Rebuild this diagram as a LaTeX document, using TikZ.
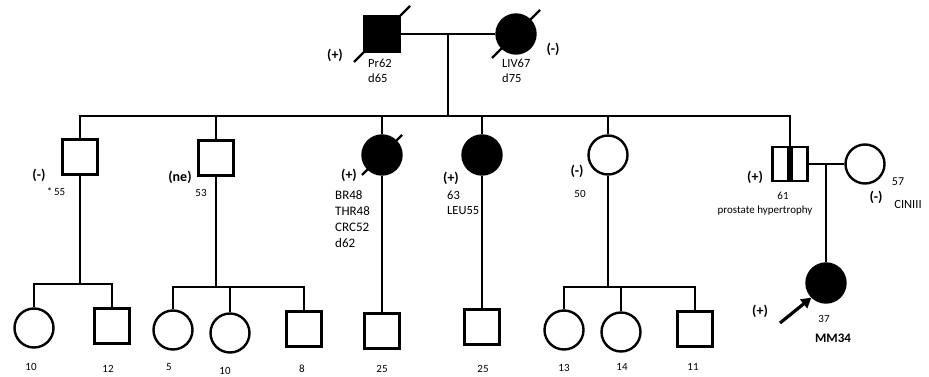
\documentclass[tikz,border=0pt]{standalone}
\usepackage{fontspec}
\setmainfont{Carlito}
\usetikzlibrary{arrows.meta,calc}
\tikzset{
  link/.style={line width=2.4pt},
  male/.style={draw, line width=2.4pt, minimum size=35pt, inner sep=0pt},
  female/.style={draw, circle, line width=2.4pt, minimum size=39pt, inner sep=0pt},
  affected/.style={fill=black},
  carrier/.style={path picture={\fill ([xshift=-3pt]path picture bounding box.north) rectangle ([xshift=3pt]path picture bounding box.south);}},
  status/.style={font=\bfseries\fontsize{14}{16}\selectfont, inner sep=0pt},
  info/.style={font=\fontsize{12.5}{15}\selectfont, inner sep=0pt, align=left, anchor=north west},
  age/.style={font=\fontsize{11}{13}\selectfont, inner sep=0pt},
  probandarrow/.style={-{Triangle[length=10pt,width=11pt]}, line width=3.2pt}
}
% slash through a deceased individual
\newcommand{\deceased}[2]{\draw[link] ($(#1.center)+(-#2,#2)$) -- ($(#1.center)+(#2,-#2)$);}

\begin{document}
\begin{tikzpicture}[x=1pt,y=-1pt]
  \useasboundingbox (0,0) rectangle (929,377);

  % generation I
  \node[male, affected] (gf) at (382,34) {};
  \node[female, affected] (gm) at (516,34) {};
  \deceased{gf}{28}
  \deceased{gm}{24}
  \node[status] (gfs) at (335,55) {(+)};
  \node[info] (gfi) at (368,59) {Pr62\\d65};
  \node[status] (gms) at (553,49) {(-)};
  \node[info] (gmi) at (502,59) {LIV67\\d75};

  % generation II
  \node[male] (s1) at (80,157) {};
  \node[male] (s2) at (216,158) {};
  \node[female, affected] (d3) at (382,155) {};
  \node[female, affected] (d4) at (482,155) {};
  \node[female] (d5) at (608,155) {};
  \node[male, minimum width=35pt, minimum height=34pt, carrier] (s6) at (790,164) {};
  \node[female] (w6) at (865,164) {};
  \deceased{d3}{20}

  \node[status] (s1s) at (39,175) {(-)};
  \node[age] (s1a) at (56,192) {*\,55};
  \node[status] (s2s) at (180,177) {(ne)};
  \node[age] (s2a) at (201,193) {53};
  \node[status] (d3s) at (349,175) {(+)};
  \node[info, font=\fontsize{13}{16}\selectfont] (d3i) at (335,190) {BR48\\THR48\\CRC52\\d62};
  \node[status] (d4s) at (451,178) {(+)};
  \node[info] (d4i) at (447,191) {63\\LEU55};
  \node[status] (d5s) at (577,171) {(-)};
  \node[age] (d5a) at (580,194) {50};
  \node[status] (s6s) at (755,177) {(+)};
  \node[age] (s6a) at (783,196) {61};
  \node[age] (s6i) at (765,211) {prostate hypertrophy};
  \node[age, font=\fontsize{12}{14}\selectfont] (w6a) at (898,182) {57};
  \node[status] (w6s) at (876,197) {(-)};
  \node[age, font=\fontsize{12.5}{14}\selectfont] (w6i) at (908,204) {CINIII};

  \coordinate (mate0) at (448,34);
  \coordinate (sib) at (448,116);
  \draw[link] (gf) -- (gm);
  \draw[link] (mate0) -- (sib);
  \draw[link] (s1.north) |- (sib) -| (s6.north);
  \foreach \n in {s2,d3,d4,d5}
    \draw[link] (\n) -- (\n |- sib);

  % generation III
  \node[female] (c11) at (34,328) {};
  \node[male] (c12) at (112,326) {};
  \node[female] (c21) at (173,330) {};
  \node[female] (c22) at (230,333) {};
  \node[male] (c23) at (304,329) {};
  \node[male] (c31) at (382,331) {};
  \node[male] (c41) at (482,327) {};
  \node[female] (c51) at (564,330) {};
  \node[female] (c52) at (621,332) {};
  \node[male] (c53) at (695,329) {};
  \node[female, affected] (pb) at (826,283) {};

  \node[age] (c11a) at (31,367) {10};
  \node[age] (c12a) at (108,369) {12};
  \node[age] (c21a) at (169,367) {5};
  \node[age] (c22a) at (225,371) {10};
  \node[age] (c23a) at (302,369) {8};
  \node[age] (c31a) at (382,369) {25};
  \node[age] (c41a) at (483,369) {25};
  \node[age] (c51a) at (564,368) {13};
  \node[age] (c52a) at (622,367) {14};
  \node[age] (c53a) at (693,367) {11};
  \node[status] (pbs) at (760,311) {(+)};
  \node[age] (pba) at (824,319) {37};
  \node[age, font=\bfseries\fontsize{13}{15}\selectfont] (pbi) at (833,338) {MM34};

  \coordinate (k1) at (80,284);
  \coordinate (k2) at (216,287);
  \coordinate (k5) at (608,287);
  \coordinate (mate6) at (826,164);
  \coordinate (pointer) at (780,323);

  \draw[link] (s1) -- (k1);
  \draw[link] (c11) |- (k1) -| (c12);
  \draw[link] (s2) -- (k2);
  \draw[link] (c21) |- (k2) -| (c23);
  \draw[link] (c22) -- (c22 |- k2);
  \draw[link] (d3) -- (c31);
  \draw[link] (d4) -- (c41);
  \draw[link] (d5) -- (k5);
  \draw[link] (c51) |- (k5) -| (c53);
  \draw[link] (c52) -- (c52 |- k5);
  \draw[link] (s6) -- (w6);
  \draw[link] (mate6) -- (pb);
  \draw[probandarrow] (pointer) -- (pb.south west);
\end{tikzpicture}
\end{document}
